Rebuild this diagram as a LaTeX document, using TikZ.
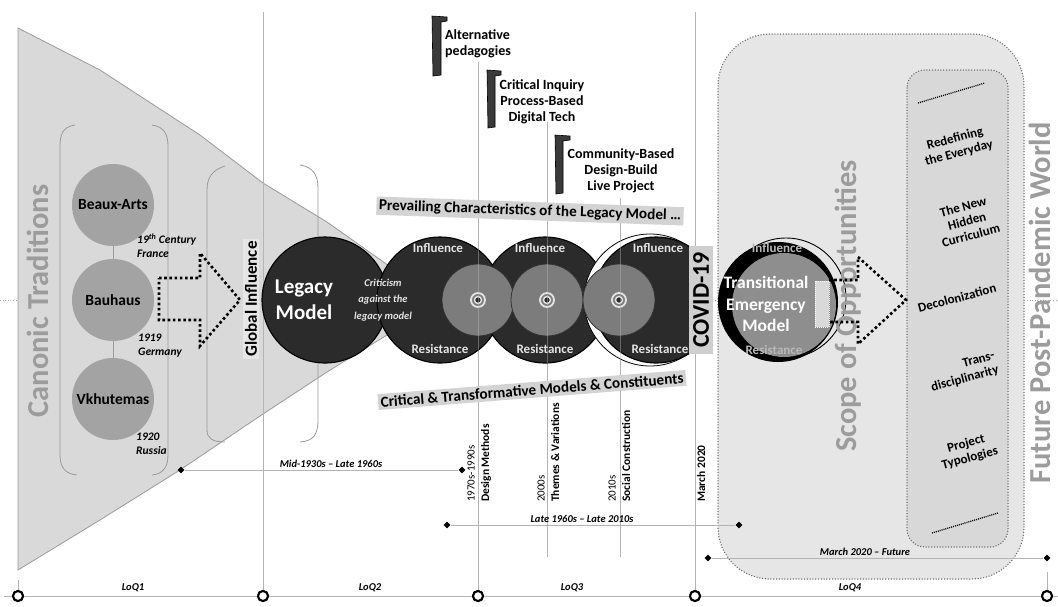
\documentclass[tikz,border=0pt]{standalone}
\usepackage{fontspec}
\setmainfont{Carlito}
\usetikzlibrary{shapes.geometric,calc}
\definecolor{funnelfill}{HTML}{D9D9D9}
\definecolor{funnelline}{HTML}{9A9A9A}
\definecolor{canonfill}{HTML}{A3A3A3}
\definecolor{bigtext}{HTML}{9C9C9C}
\definecolor{darkfill}{HTML}{2B2B2B}
\definecolor{innerfill}{HTML}{7C7C7C}
\definecolor{transfill}{HTML}{8E8E8E}
\definecolor{guide}{HTML}{B4B4B4}
\definecolor{scopefill}{HTML}{E6E6E6}
\definecolor{listfill}{HTML}{D8D8D8}
\definecolor{bandfill}{HTML}{D3D3D3}
\definecolor{softwhite}{HTML}{E4E4E4}
\definecolor{bracketfill}{HTML}{3A3A3A}
\definecolor{covidfill}{HTML}{CFCFCF}
\definecolor{globfill}{HTML}{E6E6E6}
\newcommand\fsz[2]{\fontsize{#1}{#2}\selectfont}

\begin{document}
\begin{tikzpicture}[x=1pt,y=-1pt,
  canon/.style={circle, fill=canonfill, minimum size=82pt, inner sep=0pt, font=\fsz{15.5}{17}\bfseries},
  era/.style={font=\fsz{11.5}{14}\bfseries\itshape, align=left, anchor=west, inner sep=0pt},
  bigword/.style={rotate=90, text=bigtext, font=\fsz{30.5}{33}\bfseries, inner sep=0pt},
  darkdisc/.style={circle, draw=black, line width=1.1pt, fill=darkfill, minimum size=126pt, inner sep=0pt},
  innerdisc/.style={circle, draw=black!80, line width=0.8pt, fill=innerfill, minimum size=72pt, inner sep=0pt},
  forcelbl/.style={text=softwhite, font=\fsz{13}{15}\bfseries, inner sep=0pt},
  toplbl/.style={font=\fsz{14}{16}\bfseries, align=center, inner sep=0pt},
  band/.style={fill=bandfill, font=\fsz{15.2}{17}\bfseries, inner sep=2.5pt},
  datelbl/.style={rotate=90, anchor=west, font=\fsz{11}{13}, inner sep=0pt},
  themelbl/.style={rotate=90, anchor=west, font=\fsz{11.5}{13}\bfseries, inner sep=0pt},
  span/.style={font=\fsz{10.5}{12}\bfseries\itshape, inner sep=0pt},
  tick/.style={diamond, fill=black, minimum size=7pt, inner sep=0pt},
  axisdot/.style={circle, draw=black, line width=2pt, fill=white, minimum size=10pt, inner sep=0pt},
  guideline/.style={draw=guide, line width=0.8pt},
  bigdots/.style={draw=black, line width=2.6pt, dash pattern=on 2.6pt off 2.6pt},
  finedots/.style={draw=gray!85!black, line width=1.5pt, dash pattern=on 0pt off 2.8pt, line cap=round},
  listitem/.style={rotate=15, font=\fsz{13}{15}\bfseries, align=center, inner sep=0pt},
  bracketbar/.style={fill=bracketfill, draw=black, line width=0.6pt}
]
\useasboundingbox (0,0) rectangle (1058,606);
\fill[white] (0,0) rectangle (1058,606);

% centre axis
\coordinate (midL) at (0,300);
\coordinate (midR) at (1058,300);
\draw[gray!70, line width=0.6pt, dotted] (midL) -- (midR);

% scope of opportunities region and the list box inside it
\path[fill=scopefill, finedots, rounded corners=52pt] (718,34) rectangle (1024,579);
\path[fill=listfill, finedots, rounded corners=18pt] (907,70) rectangle (1008,547);

% canonic traditions funnel
\path[fill=funnelfill, draw=funnelline, line width=0.8pt]
  (18,28) -- (100,70) -- (200,135) -- (263,183) -- (327,222) -- (392,268)
  -- (392,332) -- (327,372) -- (263,414) -- (180,470) -- (100,520) -- (18,570) -- cycle;

% brackets grouping the traditions
\draw[funnelline, line width=0.8pt] (75,125) .. controls (62,127) and (60,135) .. (60,147) -- (60,455) .. controls (60,467) and (65,474) .. (77,475);
\draw[funnelline, line width=0.8pt] (152,125) .. controls (165,127) and (168,135) .. (168,147) -- (168,455) .. controls (168,467) and (163,474) .. (152,475);
\draw[funnelline, line width=0.8pt] (225,166) .. controls (212,170) and (207,178) .. (207,190) -- (207,430) .. controls (207,438) and (212,442) .. (225,442);
\draw[funnelline, line width=0.8pt] (300,165) .. controls (313,167) and (318,175) .. (318,188) -- (318,420) .. controls (318,435) and (313,441) .. (300,442);

% guide lines
\coordinate (g1t) at (263,12);
\coordinate (g2t) at (478,62);
\coordinate (g3t) at (547,122);
\coordinate (g3b) at (547,557);
\coordinate (g4t) at (620,198);
\coordinate (g4b) at (620,557);
\coordinate (g5t) at (695,12);
\coordinate (g0t) at (18,580);
\coordinate (g6t) at (1047,572);
\node[axisdot] (ax0) at (18,596) {};
\node[axisdot] (ax1) at (263,596) {};
\node[axisdot] (ax2) at (478,596) {};
\node[axisdot] (ax3) at (695,596) {};
\node[axisdot] (ax4) at (1047,596) {};
\coordinate (axL) at (4,596);
\coordinate (axR) at (1058,596);
\draw[guideline] (g1t) -- (ax1);
\draw[guideline] (g2t) -- (ax2);
\draw[guideline] (g3t) -- (g3b);
\draw[guideline] (g4t) -- (g4b);
\draw[guideline] (g5t) -- (ax3);
\draw[guideline] (g0t) -- (ax0);
\draw[guideline] (g6t) -- (ax4);
\draw[guideline] (axL) -- (axR);
\foreach \a in {ax0,ax1,ax2,ax3,ax4} \node[axisdot] at (\a) {};

% the three canonic schools
\node[canon] (ba) at (113,205) {Beaux-Arts};
\node[canon] (bh) at (113,300) {Bauhaus};
\node[canon] (vk) at (113,399) {Vkhutemas};
\draw[funnelline, line width=0.9pt] (ba) -- (bh);
\draw[funnelline, line width=0.9pt] (bh) -- (vk);
\node[era] (fr) at (137,246) {19\textsuperscript{th} Century\\France};
\node[era] (de) at (138,346) {1919\\Germany};
\node[era] (ru) at (136,444) {1920\\Russia};

% dotted arrow towards global influence
\draw[bigdots] (159,278) -- (200,278) -- (200,253) -- (240,300) -- (200,346) -- (200,320) -- (159,320) -- cycle;
\node[rotate=90, fill=globfill, font=\fsz{17}{19}\bfseries, inner sep=2pt] (glob) at (251,299) {Global Influence};

% legacy model and the chain of models
\node[darkdisc] (legacy) at (325,300) {};
\node[darkdisc] (m1) at (440,300) {};
\node[darkdisc] (m2) at (545,300) {};
\begin{scope}
  \clip (560,150) rectangle (690,450);
  \draw[black, line width=0.8pt, fill=white] (650,300) circle (66);
  \node[darkdisc] (m3) at (656,300) {};
\end{scope}
\node[innerdisc] (c1) at (478,300) {};
\node[innerdisc] (c2) at (547,300) {};
\node[innerdisc] (c3) at (619,300) {};
\foreach \t in {c1,c2,c3} {
  \draw[softwhite, line width=1.8pt] (\t) circle (7);
  \draw[softwhite, line width=1.4pt, fill=darkfill] (\t) circle (3.5);
}
\draw[guide, opacity=.45] (478,237) -- (478,363);
\draw[guide, opacity=.45] (547,237) -- (547,363);
\draw[guide, opacity=.45] (620,237) -- (620,363);

\node[text=white, font=\fsz{21}{26}\bfseries, align=center, inner sep=0pt] (legtxt) at (304,300) {Legacy\\Model};
\node[text=softwhite, font=\fsz{10.5}{16.5}\bfseries\itshape, align=center, inner sep=0pt] (crit) at (383,300) {Criticism\\against the\\legacy model};
\node[forcelbl] (i1) at (438,248) {Influence};
\node[forcelbl] (r1) at (440,349) {Resistance};
\node[forcelbl] (i2) at (540,248) {Influence};
\node[forcelbl] (r2) at (545,349) {Resistance};
\node[forcelbl] (i3) at (658,248) {Influence};
\node[forcelbl] (r3) at (660,349) {Resistance};

\node[rotate=90, fill=covidfill, minimum width=108pt, minimum height=24pt, font=\fsz{24}{26}\bfseries, inner sep=0pt] (covid) at (701,300) {COVID-19};

% transitional emergency model
\node[circle, fill=black, minimum size=120pt, inner sep=0pt] (tblack) at (778,302) {};
\node[circle, fill=transfill, minimum size=104pt, inner sep=0pt] (tem) at (784,305) {};
\draw[black, line width=0.9pt] (786,298) circle (60);
\node[text=white, font=\fsz{17.5}{21.5}\bfseries, align=center, inner sep=0pt] (temtxt) at (766,304) {Transitional\\Emergency\\Model};
\node[forcelbl, text=gray!55] (i4) at (777,248) {Influence};
\node[forcelbl, text=gray!55] (r4) at (774,350) {Resistance};

% big vertical titles
\node[bigword] (canon) at (38,301) {Canonic Traditions};
\node[bigword] (scope) at (848,306) {Scope of Opportunities};
\node[bigword] (future) at (1040,303) {Future Post-Pandemic World};

% dotted arrow towards the scope of opportunities
\path[fill=funnelfill, draw=white, line width=1pt, dash pattern=on 1pt off 1pt] (815,281) rectangle (829,327);
\draw[bigdots] (829,280) -- (858,280) -- (858,257) -- (906,300) -- (858,344) -- (858,322) -- (829,322);

% list of opportunities
\coordinate (lt1) at (918,103);
\coordinate (lt2) at (985,83);
\coordinate (lb1) at (932,533);
\coordinate (lb2) at (998,513);
\draw[black, line width=1.3pt, dash pattern=on 1pt off 1pt] (lt1) -- (lt2);
\draw[black, line width=1.3pt, dash pattern=on 1pt off 1pt] (lb1) -- (lb2);
\node[listitem] (l1) at (957,146) {Redefining\\the Everyday};
\node[listitem] (l2) at (967,221) {The New\\Hidden\\Curriculum};
\node[listitem] (l3) at (957,298) {Decolonization};
\node[listitem, align=right] (l4) at (963,372) {Trans-\\disciplinarity};
\node[listitem] (l5) at (968,451) {Project\\Typologies};

% alternative pedagogies along the top
\path[bracketbar] (432,16) -- (447,17) -- (447,21) -- (441,22) -- (441,75) -- (433,76) -- cycle;
\node[toplbl, anchor=west, align=left] (alt) at (445,44) {Alternative\\pedagogies};
\path[bracketbar] (487,70) -- (501,71) -- (501,75) -- (495,76) -- (495,127) -- (488,128) -- cycle;
\node[toplbl] (inq) at (542,102) {Critical Inquiry\\Process-Based\\Digital Tech};
\path[bracketbar] (555,135) -- (570,136) -- (570,140) -- (563,141) -- (563,193) -- (556,194) -- cycle;
\node[toplbl] (com) at (621,171) {Community-Based\\Design-Build\\Live Project};

% banners
\node[band, rotate=-2] (prev) at (530,211) {Prevailing Characteristics of the Legacy Model …};
\node[band, rotate=4.5] (ctm) at (532,390) {Critical \& Transformative Models \& Constituents};

% periods
\node[datelbl] (d70) at (471,502) {1970s-1990s};
\node[themelbl] (tdm) at (486,502) {Design Methods};
\node[datelbl] (d00) at (541,502) {2000s};
\node[themelbl] (ttv) at (555,502) {Themes \& Variations};
\node[datelbl] (d10) at (612,502) {2010s};
\node[themelbl] (tsc) at (626,502) {Social Construction};
\node[themelbl] (mar) at (701,502) {March 2020};

% spans
\node[tick] (s1a) at (181,470) {};
\node[tick] (s1b) at (462,470) {};
\draw[guideline] (s1a) -- (s1b);
\node[span] (s1) at (331,464) {Mid-1930s -- Late 1960s};
\node[tick] (s2a) at (447,525) {};
\node[tick] (s2b) at (739,525) {};
\draw[guideline] (s2a) -- (s2b);
\node[span] (s2) at (582,519) {Late 1960s -- Late 2010s};
\node[tick] (s3a) at (708,558) {};
\node[tick] (s3b) at (1047,558) {};
\draw[guideline] (s3a) -- (s3b);
\node[span] (s3) at (865,552) {March 2020 -- Future};

% quarters
\node[span] (q1) at (133,588) {LoQ1};
\node[span] (q2) at (370,588) {LoQ2};
\node[span] (q3) at (572,588) {LoQ3};
\node[span] (q4) at (850,588) {LoQ4};
\end{tikzpicture}
\end{document}
